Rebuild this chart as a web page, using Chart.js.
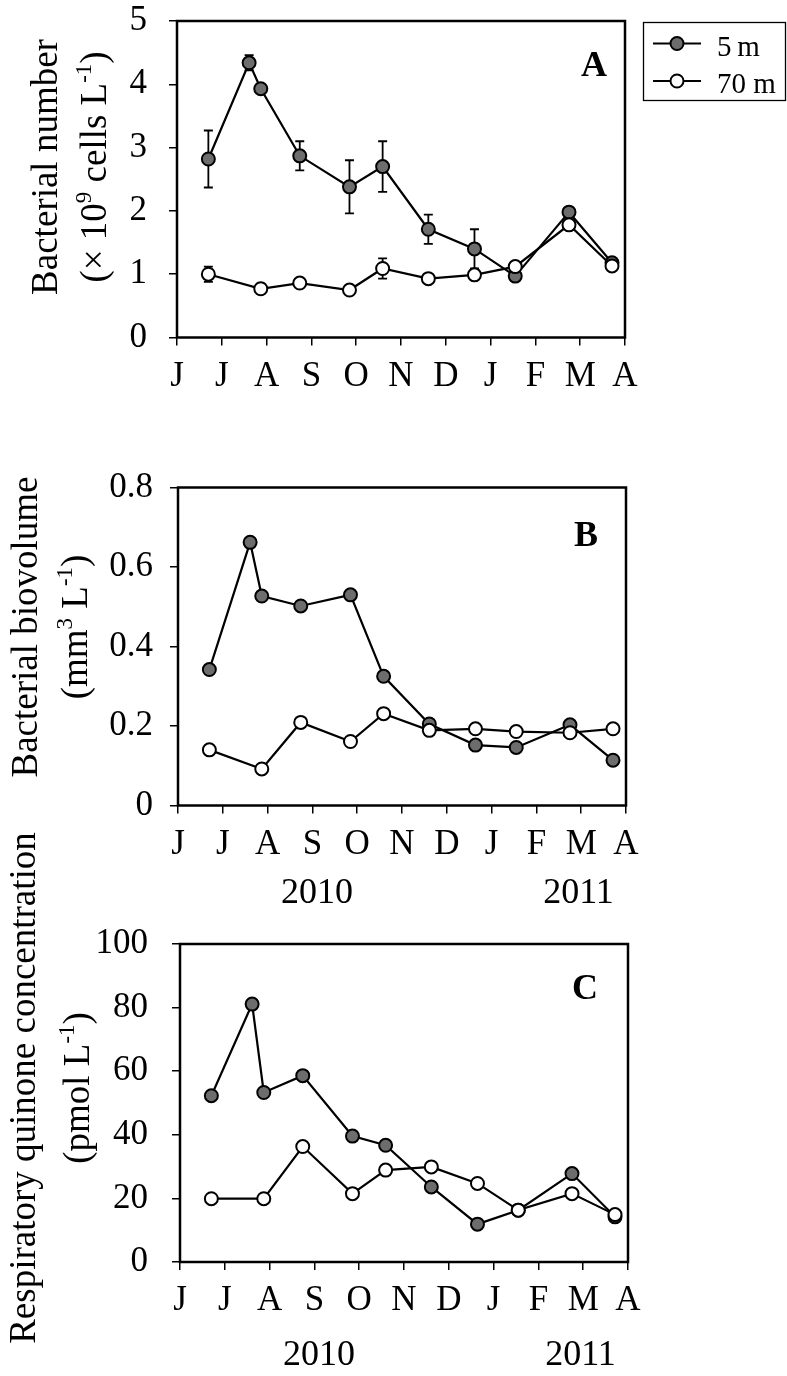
<!DOCTYPE html>
<html>
<head>
<meta charset="utf-8">
<script src="https://cdn.jsdelivr.net/npm/chart.js@4.4.0/dist/chart.umd.min.js"></script>
<style>
  html, body { margin: 0; padding: 0; background: #fff; }
  #wrap { position: relative; width: 787px; height: 1376px; overflow: hidden; }
  canvas { position: absolute; left: 0; }
</style>
</head>
<body>
<div id="wrap">
  <canvas id="panelA" width="787"></canvas>
  <canvas id="panelB" width="787"></canvas>
  <canvas id="panelC" width="787"></canvas>
</div>
<script>
// month axis: 0 = 1 June 2010 ... 10 = 1 April 2011
const months = ['J', 'J', 'A', 'S', 'O', 'N', 'D', 'J', 'F', 'M', 'A'];
const years = ['2010', '2011'];
const yearAt = [3.1, 8.94];

// sampling dates (months since 1 June)
const dates5m = [0.70, 1.61, 1.87, 2.74, 3.85, 4.59, 5.61, 6.64, 7.55, 8.75, 9.71];
const dates70m = [0.70, 1.87, 2.74, 3.85, 4.59, 5.61, 6.64, 7.55, 8.75, 9.71];

// A: bacterial number (x10^9 cells/L)
const number5m = [2.82, 4.34, 3.93, 2.87, 2.38, 2.70, 1.71, 1.40, 0.97, 1.98, 1.18];
const number5mErr = [0.45, 0.12, 0, 0.23, 0.42, 0.40, 0.23, 0.31, 0, 0, 0];
const number70m = [1.00, 0.77, 0.86, 0.75, 1.09, 0.93, 0.99, 1.12, 1.78, 1.13];
const number70mErr = [0.12, 0.08, 0, 0, 0.16, 0, 0, 0, 0, 0];

// B: bacterial biovolume (mm3/L)
const volume5m = [0.342, 0.662, 0.527, 0.502, 0.530, 0.325, 0.205, 0.152, 0.146, 0.203, 0.114];
const volume70m = [0.140, 0.092, 0.209, 0.161, 0.231, 0.189, 0.193, 0.186, 0.183, 0.193];

// C: respiratory quinone (pmol/L)
const quinone5m = [52.3, 81.1, 53.3, 58.6, 39.6, 36.7, 23.6, 11.9, 16.3, 27.8, 14.2];
const quinone70m = [19.9, 19.9, 36.3, 21.5, 28.9, 29.9, 24.7, 16.3, 21.5, 14.9];

const numberTicks = ['0', '1', '2', '3', '4', '5'];
const volumeTicks = ['0', '0.2', '0.4', '0.6', '0.8'];
const quinoneTicks = ['0', '20', '40', '60', '80', '100'];

const FONT = '"Liberation Serif", "Times New Roman", Times, serif';
Chart.defaults.font.family = FONT;
Chart.defaults.color = '#000';

function pts(xs, ys) {
  return xs.map((d, i) => ({ x: d, y: ys[i] }));
}

function drawRich(ctx, parts, size) {
  const widths = parts.map(p => {
    ctx.font = (p.sup ? size * 0.62 : size) + 'px ' + FONT;
    return ctx.measureText(p.t).width;
  });
  let cx = -widths.reduce((s, w) => s + w, 0) / 2;
  parts.forEach((p, i) => {
    ctx.font = (p.sup ? size * 0.62 : size) + 'px ' + FONT;
    ctx.fillText(p.t, cx, p.sup ? -size * 0.4 : 0);
    cx += widths[i];
  });
}

function drawMarker(ctx, x, y, r, fill) {
  ctx.beginPath();
  ctx.arc(x, y, r, 0, Math.PI * 2);
  ctx.fillStyle = fill;
  ctx.fill();
  ctx.lineWidth = 2;
  ctx.strokeStyle = '#000';
  ctx.stroke();
}

const panelDecor = {
  id: 'panelDecor',
  beforeDatasetsDraw(chart) {
    const { ctx, chartArea: a, scales: { x, y } } = chart;
    ctx.save();
    ctx.strokeStyle = '#000';
    ctx.lineWidth = 1.8;
    chart.data.datasets.forEach(ds => {
      if (!ds.errors) return;
      ds.data.forEach((p, i) => {
        const e = ds.errors[i];
        if (!e) return;
        const px = x.getPixelForValue(p.x);
        const y1 = y.getPixelForValue(p.y + e);
        const y2 = y.getPixelForValue(p.y - e);
        ctx.beginPath();
        ctx.moveTo(px, y1); ctx.lineTo(px, y2);
        ctx.moveTo(px - 4.5, y1); ctx.lineTo(px + 4.5, y1);
        ctx.moveTo(px - 4.5, y2); ctx.lineTo(px + 4.5, y2);
        ctx.stroke();
      });
    });
    ctx.lineWidth = 2.5;
    ctx.strokeRect(a.left, a.top, a.right - a.left, a.bottom - a.top);
    ctx.restore();
  },
  afterDraw(chart, args, opts) {
    const { ctx, scales: { x } } = chart;
    ctx.save();
    ctx.fillStyle = '#000';
    ctx.textBaseline = 'alphabetic';

    // y title, rotated
    opts.title.forEach((parts, i) => {
      ctx.save();
      ctx.translate(opts.titleX[i], opts.titleY);
      ctx.rotate(-Math.PI / 2);
      drawRich(ctx, parts, 37);
      ctx.restore();
    });

    // panel letter
    ctx.font = 'bold 36px ' + FONT;
    ctx.textAlign = 'center';
    ctx.fillText(opts.letter, opts.letterX, opts.letterY);

    // year labels
    if (opts.yearY) {
      ctx.font = '36px ' + FONT;
      years.forEach((t, i) => ctx.fillText(t, x.getPixelForValue(yearAt[i]), opts.yearY));
    }

    // legend box
    if (opts.legend) {
      const oy = opts.offsetY;
      ctx.lineWidth = 1.3;
      ctx.strokeStyle = '#000';
      ctx.strokeRect(643.5, 22.5 + oy, 142, 78);
      const rows = [43.5 + oy, 81 + oy];
      chart.data.datasets.forEach((ds, i) => {
        const ry = rows[i];
        ctx.beginPath();
        ctx.moveTo(653, ry); ctx.lineTo(701, ry);
        ctx.lineWidth = 2;
        ctx.strokeStyle = '#000';
        ctx.stroke();
        drawMarker(ctx, 677, ry, 6.5, ds.pointBackgroundColor);
        ctx.fillStyle = '#000';
        ctx.font = '29px ' + FONT;
        ctx.textAlign = 'left';
        ctx.fillText(ds.label, 717, ry + 12);
      });
    }
    ctx.restore();
  }
};

function makePanel(id, cfg) {
  const canvas = document.getElementById(id);
  const top = cfg.canvasTop;
  const h = cfg.canvasH;
  canvas.height = h;
  canvas.style.top = top + 'px';
  const area = cfg.area;
  const series = [
    { label: '5\u2009m', xs: dates5m, ys: cfg.v5, err: cfg.e5, fill: '#6d6d6d', order: 2 },
    { label: '70 m', xs: dates70m, ys: cfg.v70, err: cfg.e70, fill: '#ffffff', order: 1 }
  ];
  return new Chart(canvas, {
    type: 'line',
    data: {
      datasets: series.map(s => ({
        label: s.label,
        data: pts(s.xs, s.ys),
        errors: s.err,
        order: s.order,
        borderColor: '#000',
        borderWidth: 2.2,
        tension: 0,
        pointRadius: 6.5,
        pointHoverRadius: 6.5,
        pointBackgroundColor: s.fill,
        pointBorderColor: '#000',
        pointBorderWidth: 2
      }))
    },
    options: {
      responsive: false,
      animation: false,
      devicePixelRatio: 1,
      layout: {
        padding: { top: area.top - top, left: 0, right: 787 - area.right, bottom: 0 }
      },
      scales: {
        x: {
          type: 'linear',
          min: 0,
          max: 10,
          afterFit: s => { s.height = h - (area.bottom - top); },
          ticks: {
            stepSize: 1,
            autoSkip: false,
            maxRotation: 0,
            padding: 10,
            font: { size: 35 },
            color: '#000',
            callback: (v) => months[v]
          },
          grid: { drawOnChartArea: false, drawTicks: true, tickLength: 8, color: '#000', lineWidth: 1.5 },
          border: { display: false }
        },
        y: {
          type: 'linear',
          min: 0,
          max: cfg.yMax,
          afterFit: s => { s.width = area.left; },
          ticks: {
            stepSize: cfg.yStep,
            padding: cfg.yPad,
            font: { size: 35 },
            color: '#000',
            callback: (v, i) => cfg.yTicks[i]
          },
          grid: { drawOnChartArea: false, drawTicks: true, tickLength: 8, color: '#000', lineWidth: 1.5 },
          border: { display: false }
        }
      },
      plugins: {
        legend: { display: false },
        tooltip: { enabled: false },
        panelDecor: {
          title: cfg.title,
          titleX: cfg.titleX,
          titleY: cfg.titleY - top,
          letter: cfg.letter,
          letterX: cfg.letterX,
          letterY: cfg.letterY - top,
          yearY: cfg.yearY ? cfg.yearY - top : 0,
          legend: !!cfg.legend,
          offsetY: -top
        }
      }
    },
    plugins: [panelDecor]
  });
}

makePanel('panelA', {
  canvasTop: -30, canvasH: 450,
  area: { left: 177, right: 625, top: 21, bottom: 337.5 },
  v5: number5m, e5: number5mErr, v70: number70m, e70: number70mErr,
  yMax: 5, yStep: 1, yTicks: numberTicks, yPad: 22,
  title: [
    [{ t: 'Bacterial number' }],
    [{ t: '(\u00d7 10' }, { t: '9', sup: true }, { t: ' cells L' }, { t: '-1', sup: true }, { t: ')' }]
  ],
  titleX: [57, 106], titleY: 167,
  letter: 'A', letterX: 594, letterY: 76,
  legend: true
});

makePanel('panelB', {
  canvasTop: 420, canvasH: 500,
  area: { left: 178, right: 626, top: 487.5, bottom: 805.5 },
  v5: volume5m, e5: null, v70: volume70m, e70: null,
  yMax: 0.8, yStep: 0.2, yTicks: volumeTicks, yPad: 17,
  title: [
    [{ t: 'Bacterial biovolume' }],
    [{ t: '(mm' }, { t: '3', sup: true }, { t: ' L' }, { t: '-1', sup: true }, { t: ')' }]
  ],
  titleX: [37, 87], titleY: 627,
  letter: 'B', letterX: 586, letterY: 546,
  yearY: 903
});

makePanel('panelC', {
  canvasTop: 830, canvasH: 546,
  area: { left: 180, right: 628, top: 944, bottom: 1262 },
  v5: quinone5m, e5: null, v70: quinone70m, e70: null,
  yMax: 100, yStep: 20, yTicks: quinoneTicks, yPad: 24,
  title: [
    [{ t: 'Respiratory quinone concentration' }],
    [{ t: '(pmol L' }, { t: '-1', sup: true }, { t: ')' }]
  ],
  titleX: [35, 89], titleY: 1088,
  letter: 'C', letterX: 585, letterY: 999,
  yearY: 1365
});
</script>
</body>
</html>
